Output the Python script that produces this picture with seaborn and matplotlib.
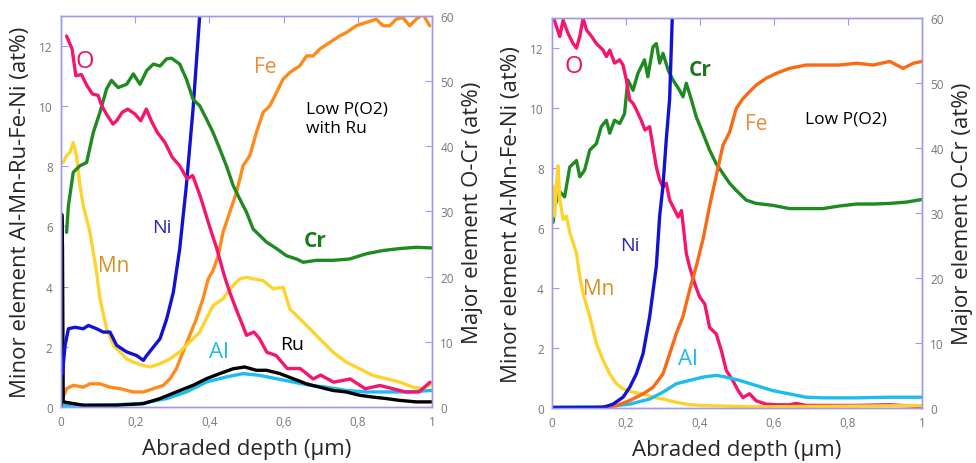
import numpy as np
import matplotlib
matplotlib.use("Agg")
import matplotlib.pyplot as plt
import seaborn as sns

# ---------- left panel: Low P(O2) with Ru ----------
# major elements (right axis, at%)
L_O_x = [0.015, 0.03, 0.04, 0.055, 0.07, 0.085, 0.1, 0.11, 0.125, 0.14, 0.15, 0.165, 0.18, 0.2,
         0.215, 0.23, 0.245, 0.26, 0.28, 0.3, 0.32, 0.34, 0.355, 0.375, 0.4, 0.42, 0.44, 0.455,
         0.475, 0.49, 0.5, 0.52, 0.535, 0.555, 0.58, 0.61, 0.645, 0.68, 0.7, 0.735, 0.78, 0.82,
         0.86, 0.895, 0.93, 0.965, 0.995]
L_O_y = [56.9, 54.9, 50.8, 51.0, 49.3, 48.0, 47.8, 46.2, 44.7, 43.4, 43.9, 45.2, 45.7, 44.9,
         43.9, 45.7, 43.7, 42.1, 40.6, 38.3, 37.0, 35.0, 35.5, 32.4, 27.8, 24.3, 20.2, 17.6,
         14.6, 12.5, 11.0, 11.5, 10.5, 8.4, 7.9, 5.9, 5.9, 4.3, 4.9, 3.8, 4.3, 2.8,
         3.3, 2.8, 2.3, 2.3, 3.8]
L_Cr_x = [0.015, 0.02, 0.033, 0.051, 0.069, 0.087, 0.105, 0.123, 0.136, 0.154, 0.177, 0.195,
          0.213, 0.231, 0.249, 0.267, 0.285, 0.298, 0.32, 0.338, 0.356, 0.374, 0.392, 0.41,
          0.428, 0.446, 0.464, 0.482, 0.5, 0.518, 0.536, 0.554, 0.581, 0.608, 0.635, 0.653,
          0.689, 0.733, 0.778, 0.823, 0.868, 0.913, 0.958, 1.0]
L_Cr_y = [26.8, 30.9, 36.0, 37.0, 37.5, 42.1, 45.2, 48.8, 50.1, 49.0, 49.5, 51.1,
          49.5, 51.6, 52.6, 52.3, 53.4, 53.5, 52.6, 50.3, 47.2, 46.2, 44.2, 42.1,
          39.6, 37.0, 34.0, 31.9, 29.9, 27.3, 26.3, 25.3, 24.3, 23.2, 22.7, 22.2,
          22.5, 22.5, 22.7, 23.5, 24.0, 24.3, 24.5, 24.4]
# minor elements (left axis, at%)
L_Fe_x = [0.006, 0.015, 0.033, 0.06, 0.078, 0.105, 0.132, 0.159, 0.195, 0.222, 0.249, 0.276,
          0.294, 0.311, 0.329, 0.347, 0.365, 0.383, 0.397, 0.41, 0.424, 0.437, 0.455, 0.473,
          0.491, 0.509, 0.527, 0.545, 0.563, 0.581, 0.599, 0.617, 0.644, 0.662, 0.68, 0.697,
          0.724, 0.751, 0.769, 0.796, 0.823, 0.85, 0.868, 0.886, 0.904, 0.922, 0.94, 0.958,
          0.976, 0.994]
L_Fe_y = [0.33, 0.61, 0.72, 0.66, 0.77, 0.77, 0.66, 0.61, 0.5, 0.5, 0.61, 0.72,
          0.94, 1.27, 1.83, 2.38, 2.93, 3.6, 4.26, 4.54, 5.03, 5.81, 6.47, 7.13,
          8.02, 8.35, 9.13, 9.79, 10.01, 10.45, 10.9, 11.12, 11.34, 11.67, 11.67, 11.89,
          12.11, 12.33, 12.44, 12.67, 12.78, 12.89, 12.67, 12.67, 12.89, 12.94, 12.67, 12.89,
          13.05, 12.67]
L_Mn_x = [0.006, 0.015, 0.024, 0.033, 0.042, 0.051, 0.06, 0.078, 0.096, 0.105, 0.123, 0.141,
          0.159, 0.177, 0.195, 0.222, 0.24, 0.267, 0.294, 0.32, 0.347, 0.374, 0.392, 0.41,
          0.437, 0.464, 0.482, 0.5, 0.518, 0.545, 0.572, 0.599, 0.617, 0.644, 0.671, 0.697,
          0.733, 0.769, 0.805, 0.841, 0.877, 0.913, 0.949, 0.976, 1.0]
L_Mn_y = [8.13, 8.35, 8.46, 8.79, 8.35, 7.36, 6.69, 5.81, 4.48, 3.6, 2.6, 2.05,
          1.83, 1.6, 1.49, 1.38, 1.33, 1.44, 1.6, 1.83, 2.16, 2.49, 2.93, 3.37,
          3.6, 4.04, 4.26, 4.31, 4.26, 4.2, 3.93, 3.98, 3.26, 2.93, 2.6, 2.27,
          1.83, 1.49, 1.27, 1.05, 0.94, 0.83, 0.66, 0.61, 0.77]
L_Ni_x = [0.004, 0.011, 0.02, 0.038, 0.06, 0.074, 0.096, 0.114, 0.132, 0.15, 0.177, 0.204,
          0.222, 0.231, 0.249, 0.267, 0.285, 0.303, 0.32, 0.338, 0.356, 0.374, 0.38]
L_Ni_y = [1.11, 2.05, 2.6, 2.65, 2.6, 2.71, 2.6, 2.49, 2.49, 2.05, 1.83, 1.71,
          1.55, 1.71, 1.99, 2.27, 2.93, 3.82, 5.25, 7.36, 9.9, 13.0, 13.8]
L_Ru_x = [0.0, 0.002, 0.004, 0.006, 0.06, 0.15, 0.222, 0.267, 0.311, 0.356, 0.392, 0.428,
          0.464, 0.495, 0.527, 0.554, 0.59, 0.626, 0.662, 0.697, 0.733, 0.769, 0.805, 0.841,
          0.877, 0.913, 0.958, 1.0]
L_Ru_y = [0.0, 6.4, 5.3, 0.17, 0.06, 0.06, 0.11, 0.28, 0.5, 0.72, 0.94, 1.11,
          1.27, 1.33, 1.22, 1.22, 1.11, 0.94, 0.77, 0.66, 0.55, 0.5, 0.39, 0.33,
          0.28, 0.22, 0.17, 0.17]
L_Al_x = [0.006, 0.105, 0.213, 0.285, 0.338, 0.392, 0.446, 0.491, 0.536, 0.581, 0.626, 0.671,
          0.715, 0.769, 0.823, 0.877, 0.931, 1.0]
L_Al_y = [0.06, 0.06, 0.11, 0.28, 0.5, 0.83, 1.0, 1.11, 1.05, 0.94, 0.83, 0.72,
          0.66, 0.55, 0.5, 0.5, 0.5, 0.55]

# ---------- right panel: Low P(O2) ----------
R_O_x = [0.003, 0.012, 0.021, 0.03, 0.043, 0.057, 0.066, 0.075, 0.084, 0.093, 0.107, 0.12,
         0.138, 0.147, 0.156, 0.169, 0.183, 0.192, 0.201, 0.21, 0.219, 0.228, 0.241, 0.251,
         0.264, 0.273, 0.282, 0.291, 0.3, 0.309, 0.318, 0.327, 0.341, 0.35, 0.363, 0.372,
         0.386, 0.399, 0.413, 0.426, 0.444, 0.458, 0.471, 0.489, 0.503, 0.516, 0.534, 0.552,
         0.579, 0.606, 0.642, 0.66, 0.687, 0.732, 0.823, 0.913, 1.0]
R_O_y = [60.3, 58.7, 57.2, 59.7, 57.7, 56.1, 55.4, 57.2, 60.0, 58.2, 57.2, 56.1,
         55.1, 54.1, 55.1, 53.1, 53.6, 52.8, 50.5, 47.4, 46.9, 45.9, 44.3, 42.8,
         43.3, 40.2, 37.1, 35.1, 34.0, 34.6, 32.0, 31.0, 29.4, 30.4, 23.8, 21.7,
         19.1, 17.1, 16.0, 12.4, 11.4, 8.8, 5.8, 4.2, 2.7, 1.6, 2.2, 1.1,
         0.6, 0.5, 0.5, 0.7, 0.4, 0.4, 0.4, 0.5, 0.2]
R_Cr_x = [0.003, 0.007, 0.021, 0.034, 0.048, 0.066, 0.075, 0.088, 0.102, 0.12, 0.133, 0.147,
          0.156, 0.169, 0.183, 0.196, 0.205, 0.219, 0.232, 0.25, 0.259, 0.273, 0.282, 0.291,
          0.3, 0.314, 0.327, 0.345, 0.354, 0.363, 0.377, 0.39, 0.408, 0.426, 0.444, 0.462,
          0.48, 0.498, 0.525, 0.552, 0.597, 0.642, 0.687, 0.732, 0.777, 0.823, 0.868, 0.913,
          0.958, 1.0]
R_Cr_y = [28.6, 31.0, 33.3, 32.5, 37.1, 38.1, 35.6, 36.6, 39.7, 40.7, 43.3, 44.3,
          42.3, 44.3, 43.8, 45.3, 50.5, 48.9, 51.5, 53.6, 51.0, 55.6, 56.1, 53.1,
          54.6, 52.0, 50.5, 48.9, 47.9, 50.0, 47.4, 44.8, 42.3, 39.7, 37.6, 36.1,
          34.6, 33.5, 32.0, 31.5, 31.2, 30.7, 30.7, 30.7, 31.1, 31.4, 31.4, 31.5,
          31.7, 32.1]
R_Fe_x = [0.003, 0.102, 0.174, 0.21, 0.246, 0.273, 0.3, 0.318, 0.336, 0.354, 0.372, 0.39,
          0.408, 0.426, 0.444, 0.462, 0.48, 0.498, 0.516, 0.534, 0.552, 0.579, 0.606, 0.642,
          0.687, 0.732, 0.777, 0.823, 0.868, 0.913, 0.949, 0.977, 1.0]
R_Fe_y = [0.0, 0.0, 0.08, 0.25, 0.47, 0.69, 1.14, 1.81, 2.49, 3.05, 3.94, 4.73,
          5.62, 6.74, 7.75, 8.76, 9.2, 9.99, 10.32, 10.55, 10.77, 11.0, 11.16, 11.33,
          11.44, 11.44, 11.44, 11.5, 11.44, 11.56, 11.33, 11.5, 11.56]
R_Mn_x = [0.003, 0.007, 0.012, 0.016, 0.021, 0.03, 0.039, 0.048, 0.066, 0.075, 0.084, 0.102,
          0.12, 0.138, 0.156, 0.174, 0.192, 0.219, 0.246, 0.273, 0.3, 0.336, 0.372, 0.417,
          0.552, 1.0]
R_Mn_y = [7.41, 6.4, 7.41, 8.08, 6.97, 6.29, 6.4, 5.85, 5.17, 4.39, 3.83, 3.05,
          2.15, 1.59, 1.14, 0.81, 0.64, 0.53, 0.47, 0.36, 0.3, 0.19, 0.11, 0.08,
          0.04, 0.08]
R_Ni_x = [0.0, 0.138, 0.165, 0.192, 0.21, 0.228, 0.246, 0.264, 0.282, 0.291, 0.3, 0.309,
          0.318, 0.325, 0.33]
R_Ni_y = [0.02, 0.02, 0.13, 0.36, 0.69, 1.14, 1.81, 3.05, 4.73, 6.41, 7.41, 8.98,
          10.32, 13.0, 13.6]
R_Al_x = [0.0, 0.147, 0.21, 0.264, 0.3, 0.336, 0.372, 0.408, 0.444, 0.471, 0.507, 0.552,
          0.597, 0.642, 0.687, 0.732, 0.823, 0.913, 1.0]
R_Al_y = [0.02, 0.04, 0.13, 0.3, 0.53, 0.81, 0.92, 1.03, 1.09, 1.03, 0.92, 0.75,
          0.58, 0.47, 0.36, 0.34, 0.34, 0.36, 0.36]

x_ticks = [0, 0.2, 0.4, 0.6, 0.8, 1.0]
x_tick_labels = ["0", "0,2", "0,4", "0,6", "0,8", "1"]
minor_ticks = [0, 2, 4, 6, 8, 10, 12]
major_ticks = [0, 10, 20, 30, 40, 50, 60]

C_O = "#f5156f"
C_CR = "#1f8a1f"
C_MN = "#fdd32e"
C_NI = "#1212d4"
C_AL = "#1cbcef"
C_RU = "#000000"
SPINE = "#9a9aee"

sns.set_style("white")
plt.rcParams["font.family"] = ["Open Sans", "DejaVu Sans"]

fig = plt.figure(figsize=(9.76, 4.64), dpi=100)
ax_l = fig.add_axes([0.0625, 0.1207, 0.380, 0.843])
ax_r = fig.add_axes([0.5656, 0.1185, 0.379, 0.840])

LW = 2.4


def style_panel(ax, ax2, ylabel):
    ax.set_xlim(0, 1)
    ax.set_ylim(0, 13)
    ax2.set_ylim(0, 60)
    ax.set_xticks(x_ticks)
    ax.set_xticklabels(x_tick_labels)
    ax.set_yticks(minor_ticks)
    ax2.set_yticks(major_ticks)
    for a in (ax, ax2):
        for s in a.spines.values():
            s.set_color(SPINE)
            s.set_linewidth(1.0)
    ax.tick_params(axis="both", direction="in", length=5, color=SPINE, top=True,
                   labelsize=8.5, labelcolor="#777777", pad=6, right=False)
    ax2.tick_params(axis="y", direction="in", length=5, color=SPINE,
                    labelsize=8.5, labelcolor="#777777", pad=6)
    ax.set_xlabel("Abraded depth (\u00b5m)", fontsize=16, labelpad=7)
    ax.set_ylabel(ylabel, fontsize=16, labelpad=6)
    ax2.set_ylabel("Major element O-Cr (at%)", fontsize=16, labelpad=6)
    ax.grid(False)
    ax2.grid(False)


def draw(ax, x, y, color, z=2):
    sns.lineplot(x=x, y=y, ax=ax, color=color, lw=LW, sort=False, estimator=None,
                 zorder=z)


# left panel
ax_l2 = ax_l.twinx()
draw(ax_l, L_Fe_x, L_Fe_y, "#ff8a1c")
draw(ax_l, L_Mn_x, L_Mn_y, C_MN)
draw(ax_l, L_Al_x, L_Al_y, C_AL)
draw(ax_l, L_Ru_x, L_Ru_y, C_RU)
draw(ax_l, L_Ni_x, L_Ni_y, C_NI)
draw(ax_l2, L_Cr_x, L_Cr_y, C_CR)
draw(ax_l2, L_O_x, L_O_y, C_O)
style_panel(ax_l, ax_l2, "Minor element Al-Mn-Ru-Fe-Ni (at%)")

ax_l.text(0.04, 11.5, "O", color="#ee1166", fontsize=17, va="center", zorder=10)
ax_l.text(0.52, 11.3, "Fe", color="#f08a3a", fontsize=15, va="center", zorder=10)
ax_l.text(0.66, 9.6, "Low P(O2)\nwith Ru", color="black", fontsize=12.5, va="center",
          linespacing=1.3, zorder=10)
ax_l.text(0.245, 5.97, "Ni", color="#2a2aa8", fontsize=14, va="center", zorder=10)
ax_l.text(0.10, 4.7, "Mn", color="#d98e1c", fontsize=15, va="center", zorder=10)
ax_l.text(0.655, 5.53, "Cr", color="#1b7a1b", fontsize=15, fontweight="bold",
          va="center", zorder=10)
ax_l.text(0.4, 1.83, "Al", color=C_AL, fontsize=16, va="center", zorder=10)
ax_l.text(0.59, 2.1, "Ru", color="black", fontsize=14, va="center", zorder=10)

# right panel
ax_r2 = ax_r.twinx()
draw(ax_r, R_Mn_x, R_Mn_y, C_MN)
draw(ax_r, R_Al_x, R_Al_y, C_AL)
draw(ax_r, R_Fe_x, R_Fe_y, "#f96a17")
draw(ax_r2, R_Cr_x, R_Cr_y, C_CR)
draw(ax_r2, R_O_x, R_O_y, C_O)
draw(ax_r, R_Ni_x, R_Ni_y, C_NI)
style_panel(ax_r, ax_r2, "Minor element Al-Mn-Fe-Ni (at%)")
ax_r.set_zorder(ax_r2.get_zorder() + 1)
ax_r.patch.set_visible(False)

ax_r.text(0.035, 11.4, "O", color="#ee1166", fontsize=17, va="center", zorder=10)
ax_r.text(0.37, 11.3, "Cr", color="#1b7a1b", fontsize=15, fontweight="bold",
          va="center", zorder=10)
ax_r.text(0.522, 9.5, "Fe", color="#f08a3a", fontsize=15, va="center", zorder=10)
ax_r.text(0.683, 9.65, "Low P(O2)", color="black", fontsize=12.5, va="center", zorder=10)
ax_r.text(0.185, 5.45, "Ni", color="#2a2aa8", fontsize=14, va="center", zorder=10)
ax_r.text(0.085, 4.0, "Mn", color="#d98e1c", fontsize=15, va="center", zorder=10)
ax_r.text(0.34, 1.65, "Al", color=C_AL, fontsize=16, va="center", zorder=10)

fig.savefig("out.png", dpi=100)
